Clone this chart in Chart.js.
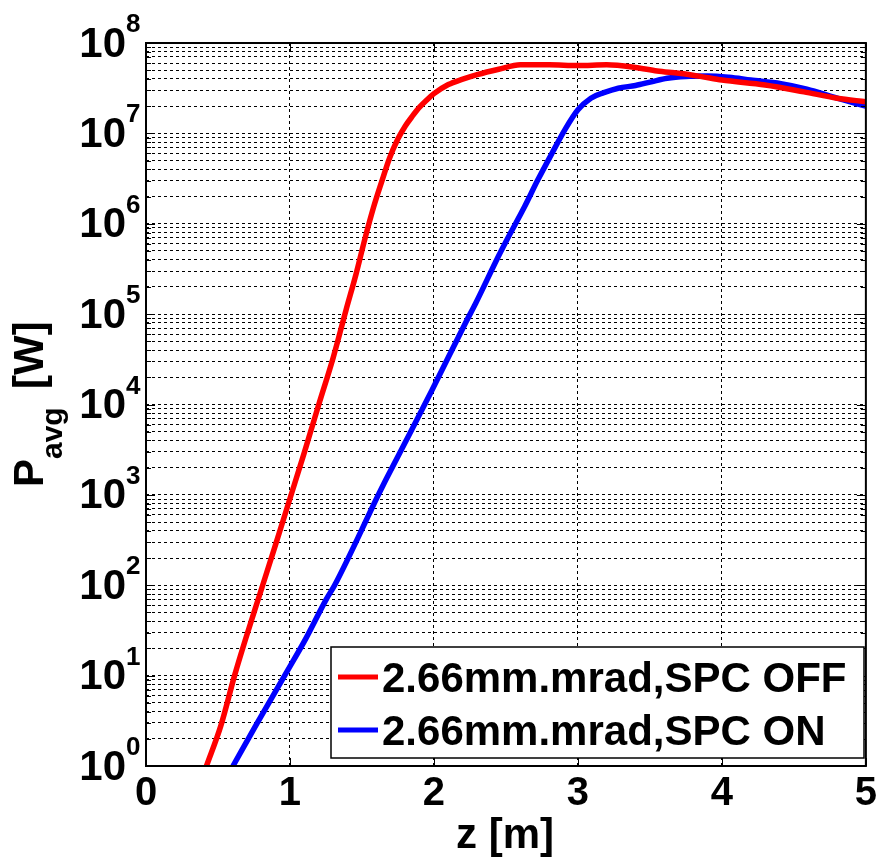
<!DOCTYPE html>
<html>
<head>
<meta charset="utf-8">
<script src="https://cdn.jsdelivr.net/npm/chart.js@4"></script>
<style>
  html, body { margin: 0; padding: 0; background: #fff; }
  #wrap { width: 881px; height: 858px; }
</style>
</head>
<body>
<div id="wrap"><canvas id="myChart" width="881" height="858"></canvas></div>
<script>
// z [m] and P_avg [W]
const offZ = [0.42, 0.52, 0.615, 0.70, 0.79, 0.90, 1.0, 1.1, 1.2, 1.3, 1.39, 1.46, 1.52, 1.58, 1.64, 1.69, 1.75, 1.80, 1.85, 1.90, 1.95, 2.0, 2.1, 2.2, 2.3, 2.45, 2.6, 2.8, 3.0, 3.2, 3.4, 3.55, 3.7, 3.85, 4.0, 4.3, 4.57, 4.8, 5.0];
const offP = [1, 2.8, 10, 28, 79, 282, 912, 2950, 10000, 33000, 112000, 282000, 676000, 1.51e6, 3.02e6, 5.25e6, 8.7e6, 1.2e7, 1.55e7, 1.95e7, 2.34e7, 2.75e7, 3.47e7, 3.98e7, 4.47e7, 5.13e7, 5.75e7, 5.75e7, 5.62e7, 5.75e7, 5.37e7, 4.9e7, 4.62e7, 4.27e7, 3.89e7, 3.43e7, 2.88e7, 2.45e7, 2.24e7];

const onZ = [0.604, 0.77, 0.985, 1.11, 1.25, 1.31, 1.62, 1.665, 1.80, 1.987, 2.218, 2.29, 2.448, 2.506, 2.63, 2.72, 2.82, 2.91, 3.0, 3.09, 3.18, 3.28, 3.4, 3.51, 3.62, 3.75, 3.9, 4.05, 4.2, 4.41, 4.59, 4.8, 5.0];
const onP = [1, 2.95, 11.5, 25.7, 69, 100, 1050, 1460, 3800, 14500, 79400, 132000, 437000, 661000, 1.55e6, 3.02e6, 6.03e6, 1.1e7, 1.82e7, 2.45e7, 2.82e7, 3.16e7, 3.39e7, 3.72e7, 4.07e7, 4.27e7, 4.32e7, 4.17e7, 3.89e7, 3.55e7, 3.09e7, 2.45e7, 2.0e7];

const seriesNames = ['2.66mm.mrad,SPC OFF', '2.66mm.mrad,SPC ON'];
const seriesColors = ['#ff0000', '#0000ff'];

// axis ticks
const xTicks = [0, 1, 2, 3, 4, 5];
const yExponents = [0, 1, 2, 3, 4, 5, 6, 7, 8];
const yMinorSteps = [1, 2, 3, 4, 5, 6, 7, 8, 9];

const FONT = '"Liberation Sans", Arial, sans-serif';

function toPoints(zs, ps) {
  return zs.map((z, i) => ({ x: z, y: ps[i] }));
}

const decorations = {
  id: 'decorations',
  afterDraw(chart) {
    const ctx = chart.ctx;
    const area = chart.chartArea;
    const xs = chart.scales.x;
    const ys = chart.scales.y;
    ctx.save();

    // inward tick marks
    ctx.strokeStyle = '#000';
    ctx.lineWidth = 1;
    ctx.setLineDash([]);
    ys.ticks.forEach(t => {
      const y = Math.round(ys.getPixelForValue(t.value)) + 0.5;
      const len = t.major ? 9 : 5;
      ctx.beginPath();
      ctx.moveTo(area.left, y); ctx.lineTo(area.left + len, y);
      ctx.moveTo(area.right, y); ctx.lineTo(area.right - len, y);
      ctx.stroke();
    });
    xTicks.forEach(v => {
      const x = Math.round(xs.getPixelForValue(v)) + 0.5;
      ctx.beginPath();
      ctx.moveTo(x, area.bottom); ctx.lineTo(x, area.bottom - 8);
      ctx.moveTo(x, area.top); ctx.lineTo(x, area.top + 8);
      ctx.stroke();
    });

    // frame
    ctx.lineWidth = 2;
    ctx.strokeRect(area.left, area.top, area.right - area.left, area.bottom - area.top);

    // y tick labels 10^n
    ctx.fillStyle = '#000';
    yExponents.forEach(e => {
      const y = ys.getPixelForValue(Math.pow(10, e));
      ctx.font = 'bold 42px ' + FONT;
      ctx.textAlign = 'right';
      ctx.textBaseline = 'middle';
      ctx.fillText('10', 126, y + 2);
      ctx.font = 'bold 26px ' + FONT;
      ctx.textAlign = 'left';
      ctx.textBaseline = 'alphabetic';
      ctx.fillText(String(e), 126, y - 11);
    });

    // y title P_avg [W]
    ctx.save();
    ctx.translate(43, 487);
    ctx.rotate(-Math.PI / 2);
    ctx.textAlign = 'left';
    ctx.textBaseline = 'alphabetic';
    ctx.font = 'bold 42px ' + FONT;
    ctx.fillText('P', 0, 0);
    ctx.font = 'bold 30px ' + FONT;
    ctx.fillText('avg', 28, 19);
    ctx.font = 'bold 42px ' + FONT;
    ctx.fillText('[W]', 98, 0);
    ctx.restore();

    // x title
    ctx.font = 'bold 42px ' + FONT;
    ctx.textAlign = 'center';
    ctx.textBaseline = 'alphabetic';
    ctx.fillText('z [m]', 505, 848);

    // legend
    const lx = 331, ly = 647, lw = 533, lh = 111;
    ctx.fillStyle = '#fff';
    ctx.fillRect(lx, ly, lw, lh);
    ctx.strokeStyle = '#000';
    ctx.lineWidth = 1.5;
    ctx.strokeRect(lx, ly, lw, lh);
    chart.data.datasets.forEach((ds, i) => {
      const cy = 677 + i * 53;
      ctx.strokeStyle = ds.borderColor;
      ctx.lineWidth = 5;
      ctx.beginPath();
      ctx.moveTo(338, cy); ctx.lineTo(378, cy);
      ctx.stroke();
      ctx.fillStyle = '#000';
      ctx.font = 'bold 42px ' + FONT;
      ctx.textAlign = 'left';
      ctx.textBaseline = 'alphabetic';
      ctx.fillText(ds.label, 382, cy + 15);
    });

    ctx.restore();
  }
};

const ctx = document.getElementById('myChart').getContext('2d');

var myChart = new Chart(ctx, {
  type: 'line',
  data: {
    datasets: [{
      label: seriesNames[0],
      data: toPoints(offZ, offP),
      borderColor: seriesColors[0],
      backgroundColor: seriesColors[0],
      borderWidth: 5.5,
      pointRadius: 0,
      cubicInterpolationMode: 'monotone'
    }, {
      label: seriesNames[1],
      data: toPoints(onZ, onP),
      borderColor: seriesColors[1],
      backgroundColor: seriesColors[1],
      borderWidth: 5.5,
      pointRadius: 0,
      cubicInterpolationMode: 'monotone'
    }]
  },
  options: {
    responsive: false,
    animation: false,
    devicePixelRatio: 1,
    layout: { padding: { left: 0, right: 12, top: 43, bottom: 0 } },
    plugins: { legend: { display: false }, tooltip: { enabled: false } },
    scales: {
      x: {
        type: 'linear',
        min: 0,
        max: 5,
        afterBuildTicks: s => { s.ticks = xTicks.map(v => ({ value: v })); },
        afterFit: s => { s.height = 92; },
        ticks: {
          color: '#000',
          font: { family: FONT, size: 40, weight: 'bold' },
          padding: 4,
          maxRotation: 0
        },
        grid: {
          drawTicks: false,
          lineWidth: 1,
          color: c => (c.tick && (c.tick.value === 0 || c.tick.value === 5)) ? 'rgba(0,0,0,0)' : '#000'
        },
        border: { display: false, dash: [3, 3] }
      },
      y: {
        type: 'logarithmic',
        min: 1,
        max: 1e8,
        afterBuildTicks: s => {
          const t = [];
          yExponents.forEach(e => {
            yMinorSteps.forEach(m => {
              if (e < 8 || m === 1) t.push({ value: m * Math.pow(10, e), major: m === 1 });
            });
          });
          s.ticks = t;
        },
        afterFit: s => { s.width = 146; },
        ticks: { display: false },
        grid: {
          drawTicks: false,
          lineWidth: 1,
          color: '#000'
        },
        border: { display: false, dash: [3, 3] }
      }
    }
  },
  plugins: [decorations]
});
</script>
</body>
</html>
